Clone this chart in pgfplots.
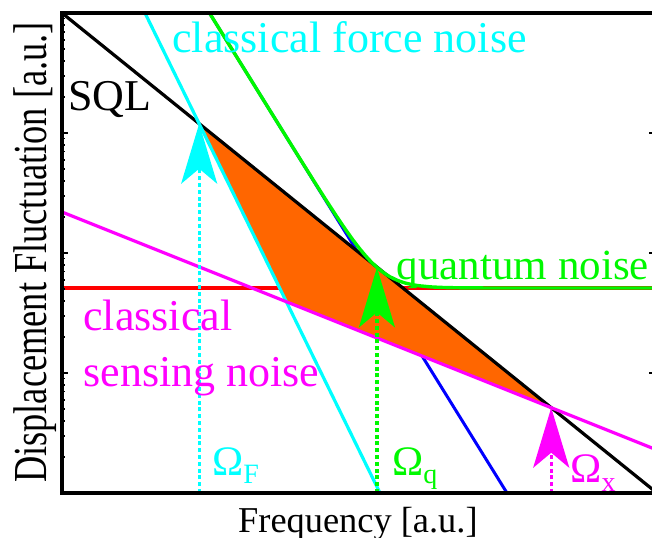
\documentclass[border=0pt]{standalone}
\usepackage{fontspec}
\setmainfont{Liberation Serif}
\usepackage{graphicx}
\usepackage{pgfplots}
\pgfplotsset{compat=1.18}
\usetikzlibrary{arrows.meta}

\definecolor{fcyan}{RGB}{0,255,255}
\definecolor{fgreen}{RGB}{0,248,0}
\definecolor{fmag}{RGB}{255,0,255}
\definecolor{fred}{RGB}{255,0,0}
\definecolor{fblue}{RGB}{0,0,255}
\definecolor{forange}{RGB}{255,102,0}

\newcommand\annot{\fontsize{22}{26}\selectfont}
\newcommand\omg{\fontsize{21}{24}\selectfont}
\newcommand\sub[1]{\raisebox{-0.45ex}{\fontsize{14}{16}\selectfont #1}}

\tikzset{
  hd/.style={-{Stealth[length=30pt,width=18pt,inset=7.5pt]}},
  dots/.style={line width=1.6pt, dash pattern=on 2pt off 1.4pt}
}

\begin{document}
\begin{tikzpicture}
\useasboundingbox (0,0) rectangle (326pt,268.5pt);
\clip (0,0) rectangle (326pt,268.5pt);
\begin{axis}[
  at={(31pt,22pt)}, anchor=south west,
  scale only axis, width=296.5pt, height=240pt,
  xmode=log, ymode=log,
  xmin=1, xmax=9695, ymin=1, ymax=10000,
  xtick=\empty, yticklabels={},
  axis on top,
  axis line style={line width=1.8pt},
  every tick/.style={black, line width=0.9pt},
  major tick length=3pt, minor tick length=1.6pt,
  every axis x label/.style={at={(axis description cs:0.499,-0.08125)}, anchor=base},
  every axis y label/.style={at={(axis description cs:-0.0253,0.501)}, rotate=90, anchor=base},
  label style={font=\fontsize{18.2}{21}\selectfont},
  xlabel={Frequency [a.u.]},
  ylabel={\scalebox{1}[1.3]{Displacement Fluctuation [a.u.]}},
]
% shot noise (red) and radiation pressure noise (blue)
\addplot[fred, line width=1.6pt] coordinates {(1,51.10) (10000,51.10)};
\addplot[fblue, line width=1.5pt] coordinates {(9.809,10000) (980.8,1)};
% region below the SQL reachable between the classical noise floors
\addplot[fill=forange, draw=none] coordinates {(8.36,1196) (1945,5.14) (32.23,39.26)} -- cycle;
% standard quantum limit
\addplot[black, line width=1.6pt] coordinates {(1,10000) (10000,1)};
% classical force noise
\addplot[fcyan, line width=1.6pt] coordinates {(3.614,10000) (137.3,1)};
% classical sensing noise
\addplot[fmag, line width=1.6pt] coordinates {(1,219.6) (10000,2.283)};
% total quantum noise
\addplot[fgreen, line width=1.7pt] coordinates {
  (9.809,10000) (15,4276.3) (20,2405.8) (30,1070.2) (40,603.47) (50,388.22)
  (60,272.09) (70,202.89) (80,158.78) (90,129.31) (100,108.94) (110,94.51)
  (120,84.11) (130,76.50) (140,70.86) (150,66.63) (160,63.43) (180,59.10)
  (200,56.48) (225,54.52) (250,53.37) (300,52.21) (350,51.70) (400,51.45)
  (500,51.24) (600,51.17) (800,51.12) (1000,51.11) (10000,51.10)};
% characteristic frequencies
\addplot[fcyan, dots, hd] coordinates {(8.36,1) (8.36,1196)};
\addplot[fgreen, dots, hd] coordinates {(131,1) (131,75.86)};
\addplot[fmag, dots, hd] coordinates {(1945,1) (1945,5.14)};
% annotations
\node[anchor=base west, inner sep=0pt, black] at (axis description cs:0.0101,0.7979) {\annot SQL};
\node[anchor=base west, inner sep=0pt, fcyan] at (axis description cs:0.1855,0.9167) {\annot classical force noise};
\node[anchor=base west, inner sep=0pt, fgreen] at (axis description cs:0.564,0.4458) {\fontsize{21.5}{26}\selectfont quantum noise};
\node[anchor=base west, inner sep=0pt, fmag] at (axis description cs:0.0354,0.3396) {\annot classical};
\node[anchor=base west, inner sep=0pt, fmag] at (axis description cs:0.0354,0.2229) {\annot sensing noise};
\node[anchor=base west, inner sep=0pt, fcyan] at (axis description cs:0.2525,0.0375) {\omg Ω\sub{F}};
\node[anchor=base west, inner sep=0pt, fgreen] at (axis description cs:0.556,0.0375) {\omg Ω\sub{q}};
\node[anchor=base west, inner sep=0pt, fmag] at (axis description cs:0.8567,0.0215) {\omg Ω\sub{x}};
\end{axis}
\end{tikzpicture}
\end{document}
